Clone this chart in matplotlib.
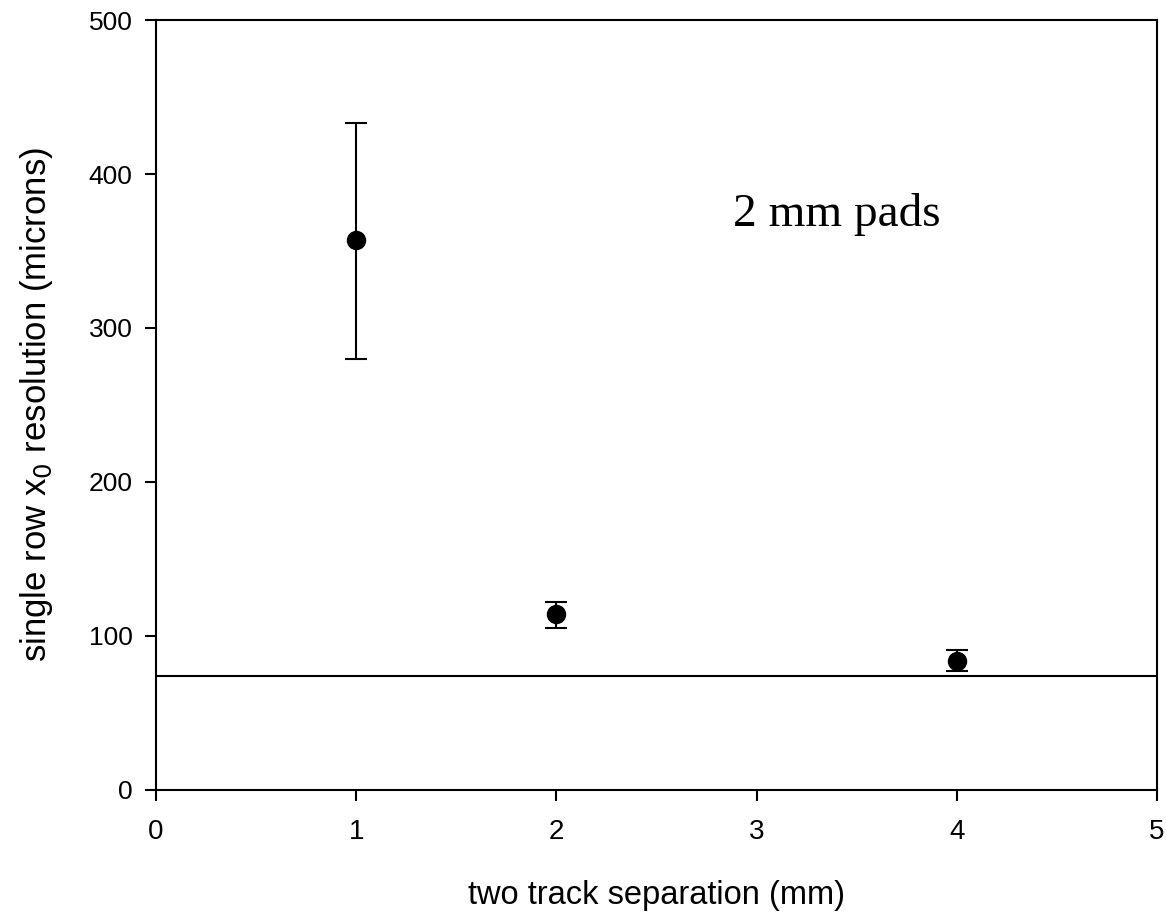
import numpy as np
import matplotlib.pyplot as plt

# two track separation (mm) and single row x0 resolution (microns)
separation = [1, 2, 4]
resolution = [357, 114, 84]
err_low = [77, 9, 7]
err_high = [76, 8, 7]
baseline = 74

plt.rcParams['font.family'] = ['Liberation Sans', 'DejaVu Sans']

fig = plt.figure(figsize=(11.66, 9.14), dpi=100)
ax = fig.add_axes([0.1338, 0.1357, 0.8585, 0.8424])

ax.errorbar(separation, resolution, yerr=[err_low, err_high], fmt='o',
            color='black', markersize=13, capsize=8, elinewidth=1.5,
            capthick=1.5, zorder=3)
ax.axhline(baseline, color='black', linewidth=1.5)

ax.text(2.88, 366, '2 mm pads', family='Liberation Serif', fontsize=34,
        ha='left', va='baseline')

ax.set_xlim(0, 5)
ax.set_ylim(0, 500)
ax.set_xticks([0, 1, 2, 3, 4, 5])
ax.set_yticks([0, 100, 200, 300, 400, 500])
ax.tick_params(direction='out', length=8, width=1.5)
ax.tick_params(axis='x', labelsize=20, pad=13)
ax.tick_params(axis='y', labelsize=19, pad=9)
for s in ax.spines.values():
    s.set_linewidth(1.5)

ax.set_xlabel('two track separation (mm)', fontsize=23.5, labelpad=25)
ax.set_ylabel('single row x$_0$ resolution (microns)', fontsize=25, labelpad=24)

fig.savefig('out.png', dpi=100)
